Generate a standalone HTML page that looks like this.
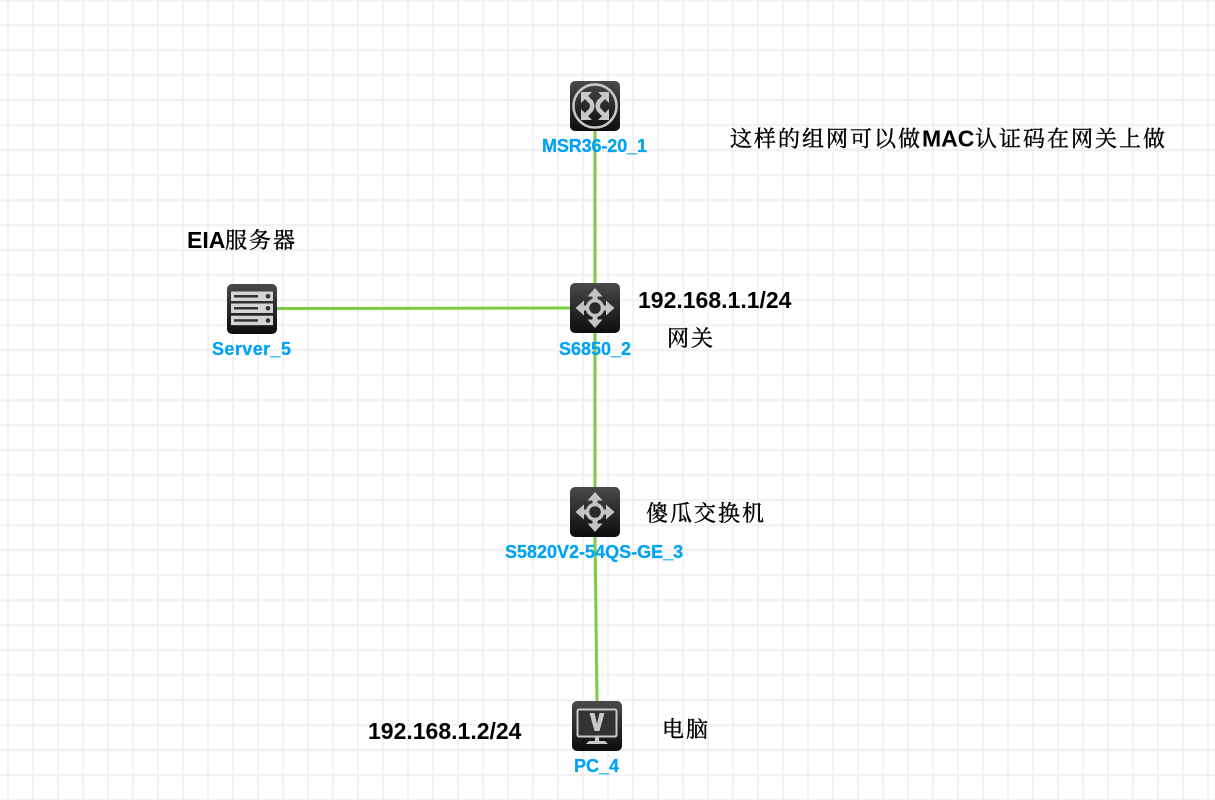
<!DOCTYPE html>
<html><head><meta charset="utf-8"><style>
html,body{margin:0;padding:0;background:#fff}
svg{display:block}
.l{font:bold 18px "Liberation Sans",sans-serif;fill:#00a2f5;stroke:#00a2f5;stroke-width:.25px}
.t{font:bold 23px "Liberation Sans",sans-serif;fill:#000}
.c{font:22px "Liberation Sans","Noto Serif CJK SC",serif;fill:#000;letter-spacing:2px;stroke:#000;stroke-width:.4px}
</style></head><body>
<svg width="1215" height="800" viewBox="0 0 1215 800" xmlns="http://www.w3.org/2000/svg">
<defs>
<pattern id="g" width="25" height="25" patternUnits="userSpaceOnUse">
<rect x="7" y="0" width="2" height="25" fill="#f2f2f2"/>
<rect x="0" y="24" width="25" height="1" fill="#f2f2f2"/>
<rect x="0" y="0" width="25" height="1.4" fill="#f2f2f2"/>
</pattern>
<linearGradient id="b" x1="0" y1="0" x2="0" y2="1"><stop offset="0" stop-color="#4a4a4a"/><stop offset=".5" stop-color="#2a2a2a"/><stop offset="1" stop-color="#0d0d0d"/></linearGradient>
<g id="sw">
<rect width="50" height="50" rx="5" fill="url(#b)"/>
<g fill="#c4c4c4">
<path d="M25 5l7.500 8.500h-5v6h-5v-6h-5zM25 45l7.500-8.500h-5v-6h-5v6h-5zM5.500 25l8.500-7.500v5h6v5h-6v5zM44.500 25l-8.500-7.500v5h-6v5h6v5z"/>
<circle cx="25" cy="25" r="7.500" fill="#2a2a2a" stroke="#c4c4c4" stroke-width="3.500"/>
</g></g>
</defs>
<rect width="1215" height="800" fill="#fff"/>
<rect width="1215" height="800" fill="url(#g)"/>
<g stroke="#7ccb45" stroke-width="3" fill="none">
<path d="M595 131V283"/><path d="M277 308.500L570 308"/><path d="M595 333V487"/><path d="M595 537L597 701"/>
</g>
<g transform="translate(570,81)">
<rect width="50" height="50" rx="5" fill="url(#b)"/>
<circle cx="25" cy="25" r="21.500" fill="none" stroke="#c8c8c8" stroke-width="2.500"/>
<g fill="none" stroke="#c8c8c8" stroke-width="4.500">
<path d="M14 14L21 21Q23.500 25 21 29L14 36"/>
<path d="M36 14L29 21Q26.500 25 29 29L36 36"/>
</g>
<g fill="#c8c8c8"><path d="M11 11h11l-11 11zM39 11v11l-11-11zM11 39v-11l11 11zM39 39h-11l11-11z"/></g>
</g>
<g transform="translate(227,284)">
<rect width="50" height="50" rx="5" fill="url(#b)"/>
<rect x="4" y="7.500" width="42" height="9.500" fill="#d4d4d4"/><rect x="7" y="11" width="24" height="2.500" fill="#333"/><circle cx="41" cy="12.300" r="2.300" fill="#333"/>
<rect x="4" y="19.500" width="42" height="9.500" fill="#d4d4d4"/><rect x="7" y="23" width="24" height="2.500" fill="#333"/><circle cx="41" cy="24.300" r="2.300" fill="#333"/>
<rect x="4" y="31.700" width="42" height="9.500" fill="#d4d4d4"/><rect x="7" y="35.200" width="24" height="2.500" fill="#333"/><circle cx="41" cy="36.500" r="2.300" fill="#333"/>
</g>
<use href="#sw" x="570" y="283"/>
<use href="#sw" x="570" y="487"/>
<g transform="translate(572,701)">
<rect width="50" height="50" rx="5" fill="url(#b)"/>
<rect x="5.500" y="8.500" width="39" height="27" rx="1.500" fill="#333" stroke="#c8c8c8" stroke-width="2"/>
<path d="M17.500 12h5l2.500 11 2.500-11h5l-5 18h-5z" fill="#c8c8c8"/>
<path d="M23 36h4v4h6l3 3H14l3-3h6z" fill="#c8c8c8"/>
</g>
<text class="l" x="542" y="152" textLength="105" lengthAdjust="spacing">MSR36-20_1</text>
<text class="l" x="212" y="355" textLength="79" lengthAdjust="spacing">Server_5</text>
<text class="l" x="559" y="355">S6850_2</text>
<text class="l" x="505" y="558">S5820V2-54QS-GE_3</text>
<text class="l" x="574" y="772">PC_4</text>
<text class="t" x="638" y="308">192.168.1.1/24</text>
<text class="t" x="368" y="739">192.168.1.2/24</text>
<text class="t" x="187" y="248">EIA</text>
<text class="c" x="225" y="248">服务器</text>
<text class="c" x="730" y="146.500">这样的组网可以做</text>
<text class="t" x="922" y="146.500">MAC</text>
<text class="c" x="975" y="146.500">认证码在网关上做</text>
<text class="c" x="667" y="346">网关</text>
<text class="c" x="646" y="521">傻瓜交换机</text>
<text class="c" x="662" y="737">电脑</text>
</svg>
</body></html>
